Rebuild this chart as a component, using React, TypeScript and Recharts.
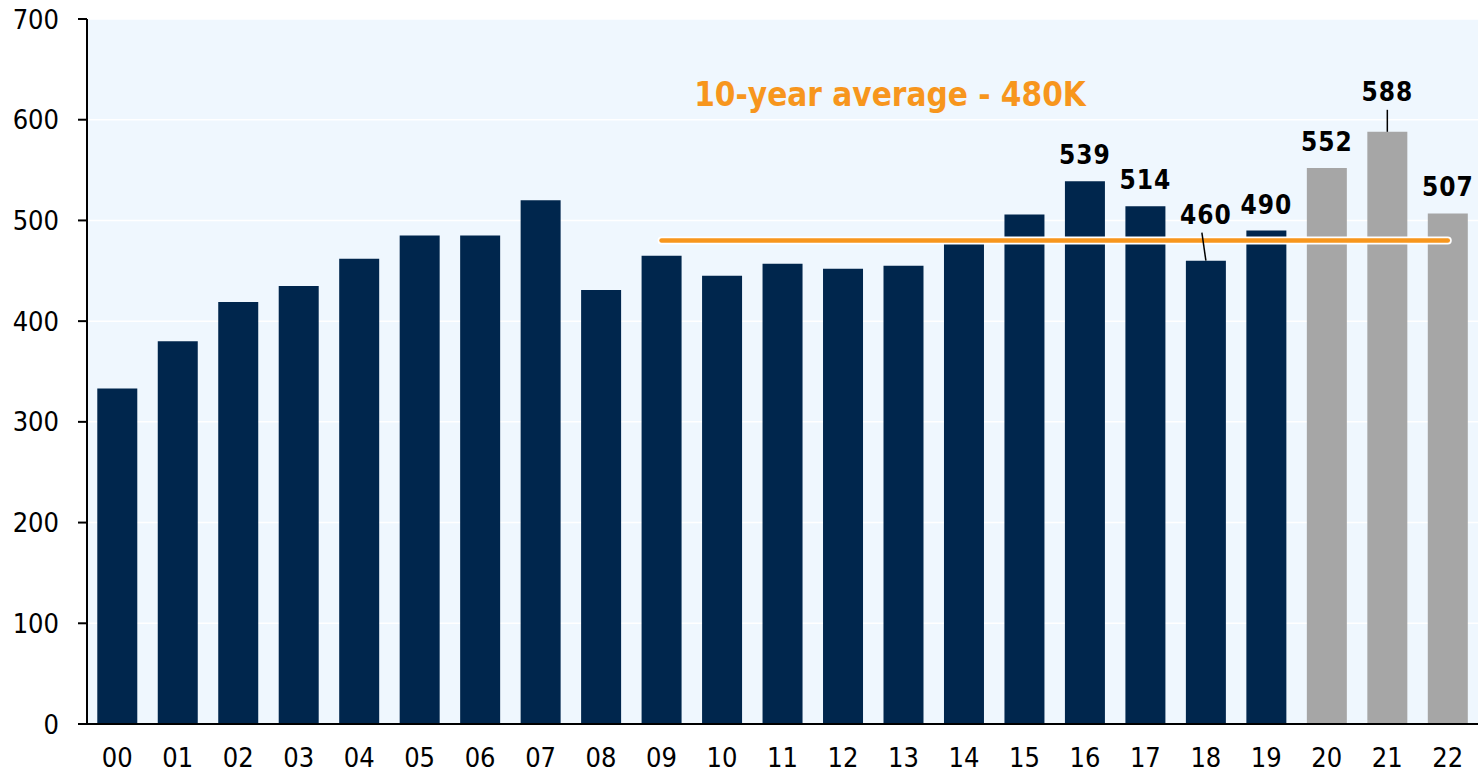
import React from 'react';
import { BarChart, Bar, XAxis, YAxis, CartesianGrid, Cell, LabelList, ReferenceLine, Customized } from 'recharts';

const years = ['00', '01', '02', '03', '04', '05', '06', '07', '08', '09', '10', '11', '12', '13', '14', '15', '16', '17', '18', '19', '20', '21', '22'];
const sales = [333, 380, 419, 435, 462, 485, 485, 520, 431, 465, 445, 457, 452, 455, 478, 506, 539, 514, 460, 490, 552, 588, 507];
const forecastYears = ['20', '21', '22'];
const labelledYears = ['16', '17', '18', '19', '20', '21', '22'];
const yTicks = [0, 100, 200, 300, 400, 500, 600, 700];
const avgValue = 480;
const avgFrom = '09';
const avgTo = '22';
const avgTitle = '10-year average - 480K';

// labels lifted above the average line get a leader line (lift px, leader slant px)
const labelLift: Record<string, number> = { '18': 37, '21': 31 };
const leaderSlant: Record<string, number> = { '18': -4, '21': 0 };

const data = years.map((y, i) => ({ year: y, value: sales[i] }));

const NAVY = '#00264d';
const GREY = '#a6a6a6';
const ORANGE = '#f7961d';
const FONT = "'DejaVu Sans Condensed', 'DejaVu Sans', sans-serif";

const ValueLabel = (props: any) => {
    const { x, y, width, value, index } = props;
    const yr = years[index];
    if (!labelledYears.includes(yr)) return null;
    const cx = x + width / 2;
    const lift = labelLift[yr];
    const base = y - (lift ?? 17);
    return (
        <g>
            {lift && (
                <line x1={cx + (leaderSlant[yr] ?? 0)} y1={base + 9} x2={cx} y2={y} stroke="#000" strokeWidth={1.5} />
            )}
            <text x={cx} y={base} textAnchor="middle" fontFamily={FONT} fontWeight="bold" fontSize={26} fill="#000" letterSpacing={1}>
                {value}
            </text>
        </g>
    );
};

const AvgTitle = () => (
    <text x={890} y={106} textAnchor="middle" fontFamily={FONT} fontWeight="bold" fontSize={33} fill={ORANGE}>
        {avgTitle}
    </text>
);

export default function App() {
    return (
        <div style={{ position: 'absolute', left: 0, top: 0, width: 1480, height: 774, background: '#fff' }}>
            <BarChart
                width={1480}
                height={774}
                data={data}
                margin={{ top: 19, right: 2, bottom: 0, left: 0 }}
                barCategoryGap="17%"
            >
                <CartesianGrid horizontal vertical={false} stroke="#ffffff" strokeWidth={1.5} fill="#eff7fe" />
                <XAxis
                    dataKey="year"
                    height={50}
                    tickLine={false}
                    tickSize={0}
                    tickMargin={24}
                    axisLine={{ stroke: '#000', strokeWidth: 2 }}
                    tick={{ fill: '#000', fontSize: 27, fontFamily: FONT }}
                    interval={0}
                />
                <YAxis
                    width={87}
                    domain={[0, 700]}
                    ticks={yTicks}
                    tickSize={9}
                    tickMargin={19}
                    axisLine={{ stroke: '#000', strokeWidth: 2 }}
                    tickLine={{ stroke: '#000', strokeWidth: 2 }}
                    tick={{ fill: '#000', fontSize: 27, fontFamily: FONT }}
                    allowDataOverflow
                />
                <Bar dataKey="value" isAnimationActive={false}>
                    {data.map((d) => (
                        <Cell key={d.year} fill={forecastYears.includes(d.year) ? GREY : NAVY} />
                    ))}
                    <LabelList dataKey="value" content={ValueLabel} />
                </Bar>
                <ReferenceLine
                    segment={[{ x: avgFrom, y: avgValue }, { x: avgTo, y: avgValue }]}
                    stroke="#ffffff"
                    strokeWidth={8}
                    strokeLinecap="round"
                />
                <ReferenceLine
                    segment={[{ x: avgFrom, y: avgValue }, { x: avgTo, y: avgValue }]}
                    stroke={ORANGE}
                    strokeWidth={4.5}
                    strokeLinecap="round"
                />
                <Customized component={AvgTitle} />
            </BarChart>
        </div>
    );
}
